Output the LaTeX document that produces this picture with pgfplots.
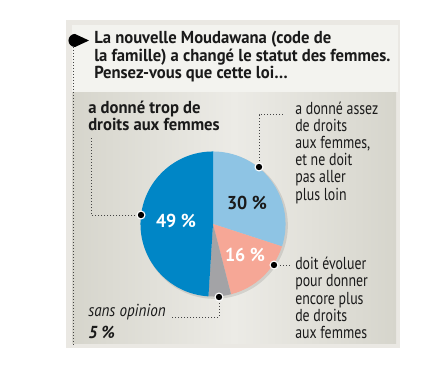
\documentclass[border=0pt]{standalone}
\usepackage{pgfplots}
\pgfplotsset{compat=1.18}
\usepackage{fontspec}
\setmainfont{PT Sans}[FakeStretch=0.96]
\newfontfamily\nar{PT Sans}[FakeStretch=0.8]
\newfontfamily\narit{PT Sans}[FakeStretch=0.87]
\definecolor{frame}{HTML}{EAE8E3}
\definecolor{titlebg}{HTML}{F3F3EF}
\definecolor{panelmid}{HTML}{ECEBE6}
\definecolor{paneledge}{HTML}{D6D5CC}
\definecolor{cblue}{HTML}{0086C6}
\definecolor{clblue}{HTML}{8EC4E4}
\definecolor{csalmon}{HTML}{F6A796}
\definecolor{cgray}{HTML}{A3A3A6}
\definecolor{txt}{HTML}{1A1A1A}
\definecolor{lead}{HTML}{444444}
\newcommand\T[3]{\node[anchor=base west, inner sep=0pt, text=txt] at (axis cs:#1,#2) {#3};}
\newcommand\B{\fontsize{13pt}{13pt}\selectfont\bfseries}
\newcommand\R{\nar\fontsize{13pt}{13pt}\selectfont}
\newcommand\D[2]{\fill[white] (axis cs:#1,#2) circle[radius=3.4pt];\fill[black] (axis cs:#1,#2) circle[radius=2.4pt];}
\begin{document}
\begin{tikzpicture}
\begin{axis}[x=0.75pt,y=0.75pt,xmin=0,xmax=448,ymin=0,ymax=389,
  hide axis, scale only axis, clip=false, anchor=south west, at={(0,0)}]
% background and frame
\fill[white] (axis cs:0,0) rectangle (axis cs:448,389);
\fill[frame] (axis cs:66,41) rectangle (axis cs:400,369);
\fill[titlebg] (axis cs:72,297) rectangle (axis cs:398,364);
\shade[left color=paneledge, right color=paneledge, middle color=panelmid] (axis cs:72,46) rectangle (axis cs:396,296);
% left dotted rule
\draw[lead, line width=0.75pt, dash pattern=on 0.75pt off 1.5pt] (axis cs:73,351) -- (axis cs:73,44);
% title marker
\fill[black] (axis cs:75,355) -- (axis cs:89,348.5) -- (axis cs:75,342) arc[start angle=-90, end angle=-270, radius=4.9pt] -- cycle;
% title
\T{94}{345}{\B La nouvelle Moudawana (code de}
\T{94}{327.5}{\B la famille) a changé le statut des femmes.}
\T{94}{310}{\B Pensez-vous que cette loi…}
% pie shadow
\fill[black, opacity=0.10] (axis cs:214.5,163.5) circle[radius=55pt];
% pie slices: 30, 16, 5, 49 (%), clockwise from top
\fill[clblue] (axis cs:213,165) -- ++(90:54.4pt) arc[start angle=90, end angle={90-3.6*30}, radius=54.4pt] -- cycle;
\fill[csalmon] (axis cs:213,165) -- ++({90-3.6*30}:54.4pt) arc[start angle={90-3.6*30}, end angle={90-3.6*(30+16)}, radius=54.4pt] -- cycle;
\fill[cgray] (axis cs:213,165) -- ++({90-3.6*(30+16)}:54.4pt) arc[start angle={90-3.6*(30+16)}, end angle={90-3.6*(30+16+5)}, radius=54.4pt] -- cycle;
\fill[cblue] (axis cs:213,165) -- ++({90-3.6*(30+16+5)}:54.4pt) arc[start angle={90-3.6*(30+16+5)}, end angle={90-3.6*(30+16+5+49)}, radius=54.4pt] -- cycle;
% pie labels
\node[text=txt, inner sep=0pt, font=\fontsize{14pt}{14pt}\selectfont\bfseries] at (axis cs:247,186) {30 \%};
\node[text=white, inner sep=0pt, font=\fontsize{14pt}{14pt}\selectfont\bfseries] at (axis cs:176,168) {49 \%};
\node[text=white, inner sep=0pt, font=\fontsize{14pt}{14pt}\selectfont\bfseries] at (axis cs:245,134) {16 \%};
% leader lines
\draw[lead, line width=0.75pt, dash pattern=on 0.75pt off 1.5pt] (axis cs:259,222) -- (axis cs:259,274) -- (axis cs:283,274);
\draw[lead, line width=0.75pt, dash pattern=on 0.75pt off 1.5pt] (axis cs:141,174) -- (axis cs:91,174) -- (axis cs:91,252);
\draw[lead, line width=0.75pt, dash pattern=on 0.75pt off 1.5pt] (axis cs:274,124) -- (axis cs:291,124);
\draw[lead, line width=0.75pt, dash pattern=on 0.75pt off 1.5pt] (axis cs:219,92) -- (axis cs:219,72) -- (axis cs:171,72);
% dots
\D{259}{222}
\D{141}{174}
\D{274}{124}
\D{219}{92}
% left label
\T{88}{275}{\B a donné trop de}
\T{88}{258}{\B droits aux femmes}
% right labels
\T{295}{274}{\R a donné assez}
\T{295}{257}{\R de droits}
\T{295}{240}{\R aux femmes,}
\T{295}{223}{\R et ne doit}
\T{295}{206}{\R pas aller}
\T{295}{189}{\R plus loin}
\T{295}{119.5}{\R doit évoluer}
\T{295}{102.3}{\R pour donner}
\T{295}{85}{\R encore plus}
\T{295}{67.8}{\R de droits}
\T{295}{50.5}{\R aux femmes}
\T{88}{72.5}{\narit\fontsize{13pt}{13pt}\selectfont\itshape sans opinion}
\T{88}{51}{\fontsize{13pt}{13pt}\selectfont\bfseries\itshape 5 \%}
\end{axis}
\end{tikzpicture}
\end{document}
